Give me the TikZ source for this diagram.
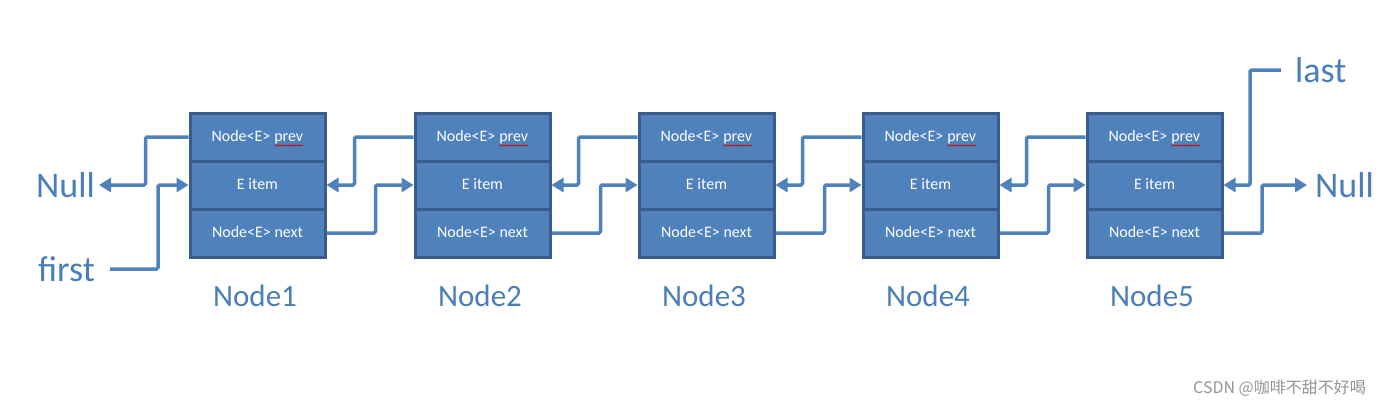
\documentclass[tikz,border=0pt]{standalone}
\usepackage{fontspec}
\setmainfont{Carlito}
\newfontfamily\cjk{Noto Sans CJK SC}
\usetikzlibrary{arrows.meta,decorations.pathmorphing}
\definecolor{cellfill}{HTML}{4F81BD}
\definecolor{cellborder}{HTML}{385D8A}
\definecolor{linkblue}{HTML}{4F81BD}
\definecolor{labelblue}{HTML}{4A7EBB}
\newcommand{\spellwave}[1]{\tikz[baseline=(w.base)]{\node[inner sep=0pt, outer sep=0pt, minimum width=0pt, minimum height=0pt, text height=, text depth=, text=white, draw=none, fill=none] (w) {#1};
  \draw[draw=red!85!black, line width=0.6pt, decorate, decoration={snake, amplitude=0.7pt, segment length=2.4pt}]
    ([yshift=-4pt]w.base west) -- ([yshift=-4pt]w.base east);}}
\tikzset{
  cell/.style={draw=cellborder, fill=cellfill, line width=3pt, minimum width=135pt,
    minimum height=48pt, inner sep=0pt, text=white, text height=12pt, text depth=3pt,
    font=\fontsize{16}{18}\selectfont},
  link/.style={draw=linkblue, line width=3.5pt, rounded corners=1.5pt,
    -{Triangle[length=12pt,width=14pt]}},
  biglabel/.style={text=labelblue, inner sep=0pt, font=\fontsize{36}{40}\selectfont},
  namelabel/.style={text=labelblue, inner sep=0pt, font=\fontsize{31}{36}\selectfont}
}
\begin{document}
\begin{tikzpicture}[x=1pt, y=-1pt]
\useasboundingbox (0,0) rectangle (1380,405);
\foreach \i/\x in {1/190,2/415,3/639,4/863,5/1087}{
  \node[cell] (n\i p) at (\x+67.5,137) {Node<E> \spellwave{prev}};
  \node[cell] (n\i i) at (\x+67.5,185) {E item};
  \node[cell] (n\i n) at (\x+67.5,233) {Node<E> next};
  \node[namelabel, anchor=base] (lab\i) at (\x+65,306) {Node\i};
}
% links between neighbours
\foreach \a/\b in {1/2,2/3,3/4,4/5}{
  \draw[link] (n\b p.west) -- ++(-59,0) |- (n\a i.east);
  \draw[link] (n\a n.east) -- ++(49,0) |- (n\b i.west);
}
% left end
\node[biglabel, anchor=base east] (nullL) at (95,197) {Null};
\node[biglabel, anchor=base west] (first) at (38,281) {first};
\coordinate (nullLpt) at (99,185);
\draw[link] (n1p.west) -- ++(-43,0) |- (nullLpt);
\coordinate (firstend) at (110,269);
\draw[link] (firstend) -- (158,269) |- (n1i.west);
% right end
\node[biglabel, anchor=base west] (last) at (1295,82) {last};
\node[biglabel, anchor=base west] (nullR) at (1315,197) {Null};
\coordinate (lastend) at (1281,70);
\draw[link] (lastend) -- (1250,70) |- (n5i.east);
\coordinate (nullRpt) at (1307,185);
\draw[link] (n5n.east) -- (1262,233) |- (nullRpt);
% watermark
\node[anchor=base east, inner sep=0pt, text=black!42, font=\cjk\fontsize{16}{18}\selectfont] (wm) at (1366,393) {CSDN @咖啡不甜不好喝};
\end{tikzpicture}
\end{document}
